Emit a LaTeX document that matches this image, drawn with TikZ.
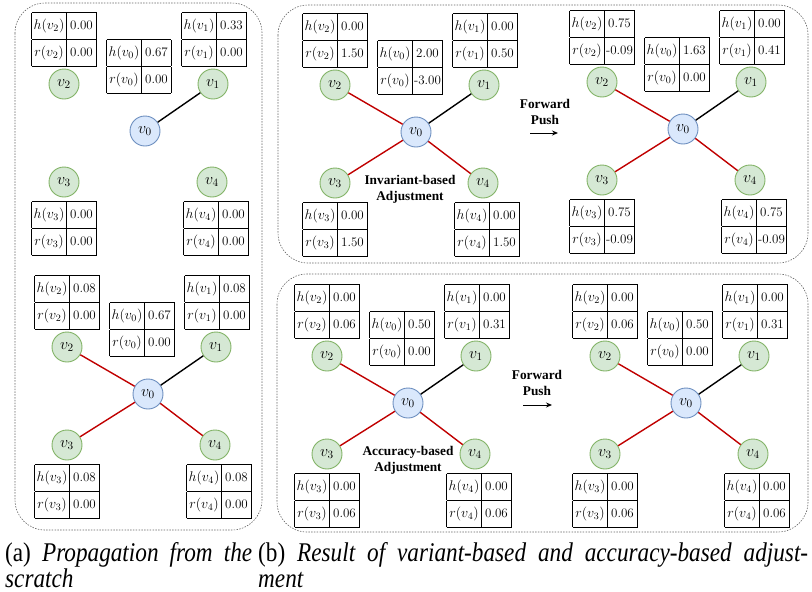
\RequirePackage{fix-cm}
\documentclass[tikz,border=0pt]{standalone}
\usepackage{fontspec}
\usepackage{xcolor}
\usetikzlibrary{positioning, calc, arrows.meta}

\newfontfamily\tnr{Liberation Serif}
\newfontfamily\capfont[FakeStretch=0.86]{Liberation Serif}

\definecolor{hubfill}{HTML}{DAE8FC}
\definecolor{hubline}{HTML}{6C8EBF}
\definecolor{leaffill}{HTML}{D5E8D4}
\definecolor{leafline}{HTML}{82B366}
\definecolor{pushred}{HTML}{C00000}

\tikzset{
  hub/.style={circle, draw=hubline, fill=hubfill, line width=0.9pt, minimum size=30pt, inner sep=0pt, font=\fontsize{16}{19}\selectfont},
  leaf/.style={hub, draw=leafline, fill=leaffill},
  plainedge/.style={line width=1.4pt},
  pushedge/.style={line width=1.4pt, draw=pushred},
  hrbox/.style={inner sep=0pt, outer sep=0pt},
  frame/.style={draw=black!60, line width=0.6pt, dash pattern=on 1.5pt off 1.3pt, rounded corners=30pt},
  adjlabel/.style={font=\tnr\bfseries\fontsize{13.3}{16}\selectfont, align=center, inner sep=0pt},
  pusharrow/.style={line width=0.9pt, -{Stealth[length=6pt, width=5pt]}},
  caption/.style={font=\capfont\fontsize{27}{25}\selectfont, inner sep=0pt, anchor=base west}
}

% one cell of a value table
\newcommand{\hcell}[1]{\makebox[35pt]{\rule[-9.5pt]{0pt}{26pt}\fontsize{14}{17}\selectfont#1}}
\newcommand{\vcell}[1]{\makebox[30pt]{#1}}

% table of h and r values: [placement]{name}{index}{h}{r}
\newcommand{\hrtable}[5][]{%
  \node[hrbox, #1] (#2) {\setlength{\tabcolsep}{0pt}\setlength{\arrayrulewidth}{0.8pt}%
    \begin{tabular}{|c|c|}\hline
      \hcell{$h(v_{#3})$} & \vcell{#4}\\\hline
      \hcell{$r(v_{#3})$} & \vcell{#5}\\\hline
    \end{tabular}};}

% the five vertices of one graph: {prefix}{position of v0}
\newcommand{\hrgraph}[2]{%
  \node[hub] (#1v0) at #2 {$v_0$};
  \node[leaf] (#1v1) at ($(#1v0)+(68,-47)$) {$v_1$};
  \node[leaf] (#1v2) at ($(#1v0)+(-81,-47)$) {$v_2$};
  \node[leaf] (#1v3) at ($(#1v0)+(-81,51)$) {$v_3$};
  \node[leaf] (#1v4) at ($(#1v0)+(67,51)$) {$v_4$};
  \draw[plainedge] (#1v0) -- (#1v1);}

\begin{document}
\begin{tikzpicture}[x=1pt, y=-1pt, font=\fontsize{13}{16}\selectfont]
  \useasboundingbox (0,0) rectangle (812,592);

  % ===================================================
  % FRAMES
  % ===================================================
  \draw[frame] (15,3) rectangle (262,530);
  \draw[frame] (278,5) rectangle (808,263);
  \draw[frame] (277,274) rectangle (808,532);

  % ===================================================
  % (a) PROPAGATION FROM THE SCRATCH
  % ===================================================

  % Initial state
  \hrgraph{start}{(145,131)}
  \hrtable[above=22pt of startv0, xshift=-6pt]{startt0}{0}{0.67}{0.00}
  \hrtable[above=2pt of startv1, xshift=1pt]{startt1}{1}{0.33}{0.00}
  \hrtable[above=2pt of startv2]{startt2}{2}{0.00}{0.00}
  \hrtable[below=4pt of startv3]{startt3}{3}{0.00}{0.00}
  \hrtable[below=4pt of startv4, xshift=4pt]{startt4}{4}{0.00}{0.00}

  % After propagation
  \hrgraph{scr}{(148,394)}
  \foreach \j in {2,3,4} \draw[pushedge] (scrv0) -- (scrv\j);
  \hrtable[above=22pt of scrv0, xshift=-6pt]{scrt0}{0}{0.67}{0.00}
  \hrtable[above=2pt of scrv1, xshift=1pt]{scrt1}{1}{0.08}{0.00}
  \hrtable[above=2pt of scrv2]{scrt2}{2}{0.08}{0.00}
  \hrtable[below=4pt of scrv3]{scrt3}{3}{0.08}{0.00}
  \hrtable[below=4pt of scrv4, xshift=4pt]{scrt4}{4}{0.08}{0.00}

  % ===================================================
  % (b) INVARIANT-BASED ADJUSTMENT
  % ===================================================
  \hrgraph{inv}{(416,132)}
  \foreach \j in {2,3,4} \draw[pushedge] (invv0) -- (invv\j);
  \hrtable[above=22pt of invv0, xshift=-6pt]{invt0}{0}{2.00}{-3.00}
  \hrtable[above=2pt of invv1, xshift=1pt]{invt1}{1}{0.00}{0.50}
  \hrtable[above=2pt of invv2]{invt2}{2}{0.00}{1.50}
  \hrtable[below=4pt of invv3]{invt3}{3}{0.00}{1.50}
  \hrtable[below=4pt of invv4, xshift=4pt]{invt4}{4}{0.00}{1.50}
  \node[adjlabel] (invlabel) at (410,189) {Invariant-based\\Adjustment};

  % Forward push
  \node[adjlabel] (invpush) at (545,112) {Forward\\Push};
  \coordinate (invpushs) at (530,133);
  \coordinate (invpushe) at (558,133);
  \draw[pusharrow] (invpushs) -- (invpushe);

  \hrgraph{invfp}{(683,129)}
  \foreach \j in {2,3,4} \draw[pushedge] (invfpv0) -- (invfpv\j);
  \hrtable[above=22pt of invfpv0, xshift=-6pt]{invfpt0}{0}{1.63}{0.00}
  \hrtable[above=2pt of invfpv1, xshift=1pt]{invfpt1}{1}{0.00}{0.41}
  \hrtable[above=2pt of invfpv2]{invfpt2}{2}{0.75}{-0.09}
  \hrtable[below=4pt of invfpv3]{invfpt3}{3}{0.75}{-0.09}
  \hrtable[below=4pt of invfpv4, xshift=4pt]{invfpt4}{4}{0.75}{-0.09}

  % ===================================================
  % (b) ACCURACY-BASED ADJUSTMENT
  % ===================================================
  \hrgraph{acc}{(408,403)}
  \foreach \j in {2,3,4} \draw[pushedge] (accv0) -- (accv\j);
  \hrtable[above=22pt of accv0, xshift=-6pt]{acct0}{0}{0.50}{0.00}
  \hrtable[above=2pt of accv1, xshift=1pt]{acct1}{1}{0.00}{0.31}
  \hrtable[above=2pt of accv2]{acct2}{2}{0.00}{0.06}
  \hrtable[below=4pt of accv3]{acct3}{3}{0.00}{0.06}
  \hrtable[below=4pt of accv4, xshift=4pt]{acct4}{4}{0.00}{0.06}
  \node[adjlabel] (acclabel) at (408,460) {Accuracy-based\\Adjustment};

  % Forward push
  \node[adjlabel] (accpush) at (537,383) {Forward\\Push};
  \coordinate (accpushs) at (523,405);
  \coordinate (accpushe) at (552,405);
  \draw[pusharrow] (accpushs) -- (accpushe);

  \hrgraph{accfp}{(686,403)}
  \foreach \j in {2,3,4} \draw[pushedge] (accfpv0) -- (accfpv\j);
  \hrtable[above=22pt of accfpv0, xshift=-6pt]{accfpt0}{0}{0.50}{0.00}
  \hrtable[above=2pt of accfpv1, xshift=1pt]{accfpt1}{1}{0.00}{0.31}
  \hrtable[above=2pt of accfpv2]{accfpt2}{2}{0.00}{0.06}
  \hrtable[below=4pt of accfpv3]{accfpt3}{3}{0.00}{0.06}
  \hrtable[below=4pt of accfpv4, xshift=4pt]{accfpt4}{4}{0.00}{0.06}

  % ===================================================
  % CAPTIONS
  % ===================================================
  \node[caption] (capa) at (5,561) {\makebox[247pt][s]{(a) \textit{Propagation from the}}};
  \node[caption] (capa2) at (5,587) {\textit{scratch}};
  \node[caption] (capb) at (258,561) {\makebox[550pt][s]{(b) \textit{Result of variant-based and accuracy-based adjust-}}};
  \node[caption] (capb2) at (258,587) {\textit{ment}};
\end{tikzpicture}
\end{document}
